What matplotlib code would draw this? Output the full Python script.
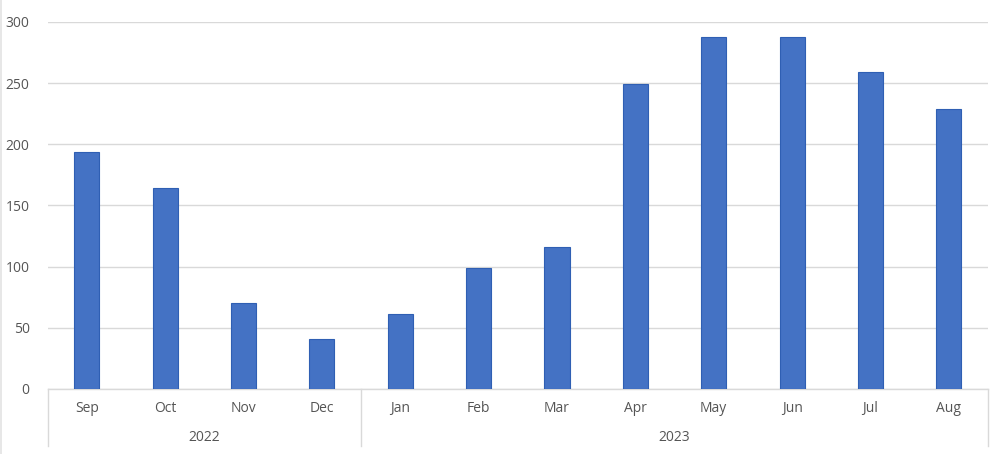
import matplotlib
matplotlib.use("Agg")
import matplotlib.pyplot as plt
from matplotlib.lines import Line2D

# data
months = ["Sep", "Oct", "Nov", "Dec", "Jan", "Feb", "Mar", "Apr", "May", "Jun", "Jul", "Aug"]
values = [194, 164, 70, 41, 61, 99, 116, 249, 288, 288, 259, 229]
years = ["2022", "2023"]
year_spans = [(0, 3), (4, 11)]  # first and last month index of each year

text_col = "#555555"
grid_col = "#d9d9d9"
plt.rcParams["font.family"] = ["Open Sans", "DejaVu Sans"]

fig = plt.figure(figsize=(10, 4.54), dpi=100)
ax = fig.add_axes([0.0477, 0.1432, 0.9403, 0.8084])

x = list(range(len(months)))
ax.bar(x, values, width=0.32, color="#4472C4", edgecolor="#2F5FB3", linewidth=0.8, zorder=3)

ax.set_xlim(-0.5, len(months) - 0.5)
ax.set_ylim(0, 300)
ax.set_yticks(range(0, 301, 50))
ax.tick_params(axis="y", length=0, pad=13, labelsize=10, labelcolor=text_col)
ax.set_xticks([])
ax.grid(axis="y", color=grid_col, linewidth=1, zorder=0)
for s in ["top", "right", "left"]:
    ax.spines[s].set_visible(False)
ax.spines["bottom"].set_color(grid_col)
ax.spines["bottom"].set_linewidth(1)

trans = ax.get_xaxis_transform()
# month labels
for i, m in zip(x, months):
    ax.text(i, -0.052, m, transform=trans, ha="center", va="center",
            fontsize=10, color=text_col)

# year groups with separator lines
for yr, (a, b) in zip(years, year_spans):
    ax.text((a + b) / 2, -0.131, yr, transform=trans, ha="center", va="center",
            fontsize=10, color=text_col)
seps = [year_spans[0][0] - 0.5] + [b + 0.5 for _, b in year_spans]
for sx in seps:
    ax.plot([sx, sx], [0, -0.155], transform=trans, color=grid_col,
            linewidth=1, clip_on=False)

# faint frame edge on the left of the image
fig.add_artist(Line2D([0.0008, 0.0008], [0, 1], transform=fig.transFigure,
                      color="#e3e3e3", linewidth=1.2))

fig.savefig("out.png", dpi=100)
